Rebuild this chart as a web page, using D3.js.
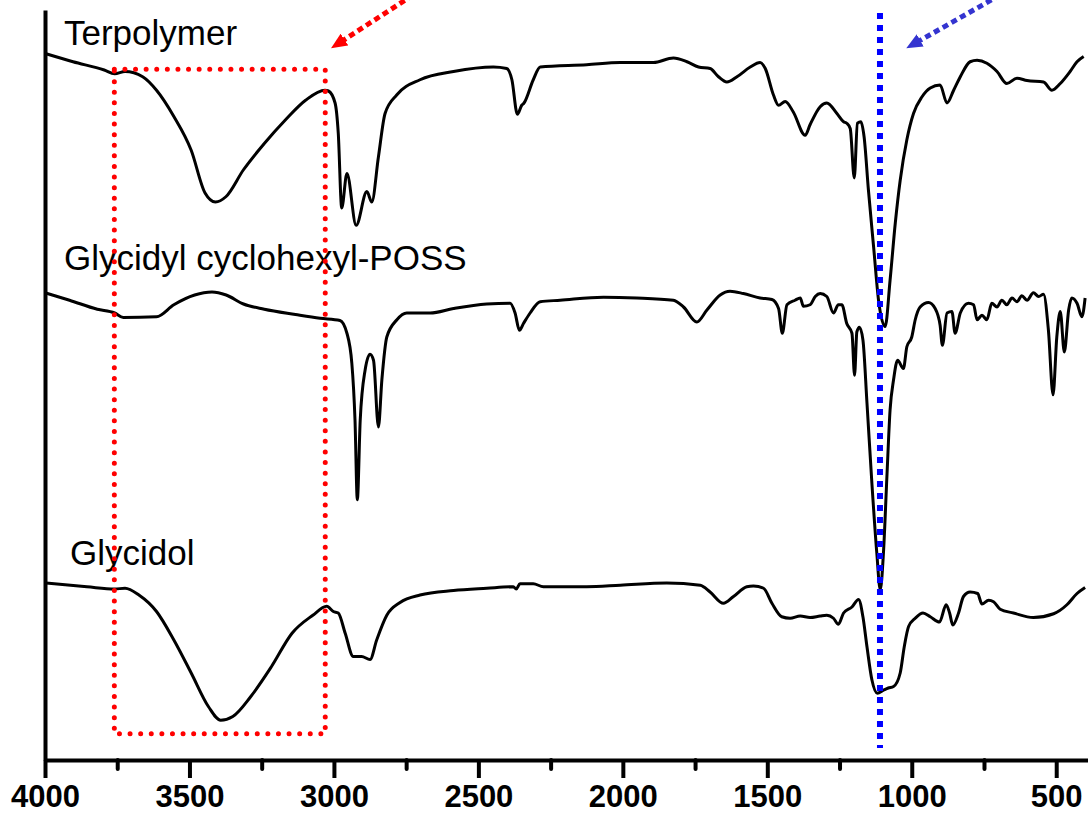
<!DOCTYPE html>
<html>
<head>
<meta charset="utf-8">
<script src="https://cdn.jsdelivr.net/npm/d3@7"></script>
<style>
  body { margin: 0; background: #fff; }
  svg { display: block; }
</style>
</head>
<body>
<div id="chart"></div>
<script>
// FTIR spectra: [wavenumber (cm-1), transmittance (offset, a.u.)]
var terpolymer = [
  [4000, 94.2], [3903, 93.1], [3795, 92.0], [3759, 91.5], [3723, 91.8], [3662, 91.1],
  [3614, 89.3], [3554, 85.8], [3494, 81.3], [3446, 75.6], [3410, 74.4], [3374, 75.1],
  [3313, 78.7], [3241, 82.2], [3169, 85.3], [3097, 88.0], [3031, 89.3], [3019, 89.2],
  [2996, 87.6], [2985, 83.6], [2973, 73.6], [2955, 78.2], [2923, 71.3], [2886, 75.8],
  [2869, 74.4], [2846, 80.4], [2823, 86.2], [2782, 88.7], [2702, 90.7], [2586, 91.8],
  [2448, 92.4], [2402, 92.2], [2384, 90.7], [2365, 86.1], [2350, 87.3], [2342, 87.6],
  [2310, 90.7], [2286, 92.4], [2125, 92.7], [2009, 93.0], [1894, 93.0], [1825, 93.6],
  [1778, 93.1], [1738, 92.4], [1698, 92.2], [1669, 91.1], [1640, 90.4], [1605, 91.1],
  [1559, 92.4], [1525, 93.0], [1507, 92.2], [1479, 88.7], [1461, 87.3], [1438, 87.8],
  [1410, 86.4], [1369, 83.3], [1352, 84.7], [1317, 87.1], [1294, 87.6], [1259, 86.2],
  [1236, 85.1], [1225, 84.9], [1213, 84.2], [1199, 77.6], [1188, 84.9], [1176, 85.1],
  [1165, 83.1], [1150, 76.0], [1132, 68.4], [1115, 61.3], [1092, 57.8], [1075, 64.0],
  [1057, 71.6], [1040, 77.3], [1017, 82.7], [994, 86.2], [965, 88.4], [936, 89.6],
  [902, 90.0], [878, 87.6], [855, 89.3], [832, 91.1], [798, 93.1], [774, 93.3],
  [740, 92.9], [705, 91.8], [671, 90.2], [636, 90.9], [601, 90.6], [544, 90.4],
  [515, 89.3], [486, 90.2], [452, 91.8], [428, 93.1], [405, 93.8]
];

var possGlycidyl = [
  [4000, 62.3], [3915, 61.3], [3819, 60.1], [3759, 59.6], [3729, 59.0], [3614, 59.1],
  [3554, 60.7], [3482, 62.0], [3422, 62.4], [3373, 62.0], [3313, 60.8], [3241, 60.1],
  [3133, 59.4], [3048, 58.9], [2979, 58.6], [2955, 56.9], [2938, 52.9], [2927, 45.3],
  [2919, 34.7], [2909, 45.3], [2892, 52.0], [2875, 54.1], [2863, 53.3], [2846, 44.4],
  [2834, 50.7], [2817, 56.4], [2782, 58.7], [2748, 59.6], [2667, 59.6], [2586, 60.2],
  [2471, 60.8], [2390, 60.9], [2373, 59.6], [2358, 57.3], [2344, 58.2], [2321, 59.6],
  [2286, 61.1], [2217, 61.3], [2067, 61.7], [1952, 61.6], [1825, 61.3], [1790, 60.4],
  [1744, 58.4], [1709, 60.0], [1663, 62.0], [1629, 62.5], [1583, 62.2], [1525, 61.6],
  [1484, 61.4], [1461, 60.2], [1448, 56.9], [1432, 60.7], [1404, 61.3], [1386, 61.6],
  [1375, 60.5], [1352, 60.7], [1334, 61.8], [1317, 62.2], [1294, 61.8], [1271, 59.6],
  [1254, 60.7], [1242, 60.7], [1225, 58.2], [1207, 56.9], [1198, 51.3], [1190, 57.1],
  [1181, 57.7], [1169, 56.0], [1155, 47.6], [1138, 36.9], [1121, 27.6], [1109, 22.7],
  [1098, 27.6], [1086, 37.8], [1075, 46.7], [1063, 50.7], [1049, 53.3], [1029, 52.2],
  [1017, 55.1], [1000, 56.4], [988, 58.7], [971, 60.4], [942, 61.0], [919, 60.2],
  [902, 58.0], [894, 55.3], [878, 59.6], [861, 59.8], [850, 56.9], [832, 59.6],
  [804, 60.9], [786, 60.7], [774, 58.7], [757, 59.3], [740, 58.7], [723, 60.9],
  [705, 60.4], [688, 61.3], [671, 60.7], [653, 61.6], [636, 61.1], [619, 61.9],
  [601, 61.3], [579, 62.3], [561, 61.8], [544, 62.1], [527, 57.3], [511, 48.7],
  [498, 56.4], [486, 59.8], [472, 54.4], [457, 60.0], [446, 61.6], [428, 60.9],
  [411, 59.1], [400, 61.6]
];

var glycidol = [
  [4000, 23.6], [3855, 23.1], [3759, 22.8], [3723, 22.9], [3675, 22.0], [3614, 19.8],
  [3554, 16.0], [3494, 11.6], [3434, 7.1], [3392, 5.3], [3350, 5.8], [3289, 8.4],
  [3217, 12.4], [3145, 16.9], [3073, 19.3], [3025, 20.5], [3002, 19.8], [2985, 19.6],
  [2961, 16.9], [2933, 13.8], [2904, 13.8], [2875, 13.4], [2852, 16.0], [2817, 19.3],
  [2771, 21.0], [2702, 22.0], [2586, 22.6], [2471, 22.9], [2379, 23.1], [2369, 22.8],
  [2356, 23.5], [2310, 23.5], [2275, 23.1], [2125, 23.1], [2009, 23.3], [1848, 23.6],
  [1732, 23.3], [1698, 22.4], [1652, 20.9], [1617, 21.8], [1571, 23.1], [1548, 23.2],
  [1513, 22.9], [1484, 20.9], [1450, 19.1], [1421, 18.9], [1386, 19.2], [1352, 19.0],
  [1317, 19.2], [1294, 19.3], [1271, 18.9], [1254, 18.1], [1236, 19.6], [1207, 20.4],
  [1184, 21.4], [1169, 19.1], [1155, 15.1], [1138, 10.7], [1119, 8.9], [1098, 9.3],
  [1081, 9.6], [1063, 9.8], [1040, 11.6], [1026, 15.1], [1011, 17.8], [988, 18.9],
  [961, 19.6], [936, 19.1], [904, 18.4], [881, 20.7], [869, 19.6], [858, 18.0],
  [838, 19.6], [821, 21.8], [798, 22.4], [772, 22.2], [757, 20.8], [734, 21.3],
  [717, 21.1], [694, 20.1], [648, 19.6], [579, 19.0], [509, 19.5], [463, 20.7],
  [428, 22.2], [400, 23.0]
];

var seriesNames = ["Terpolymer", "Glycidyl cyclohexyl-POSS", "Glycidol"];
var majorTicks = [4000, 3500, 3000, 2500, 2000, 1500, 1000, 500];
var minorTicks = [3750, 3250, 2750, 2250, 1750, 1250, 750];

// highlighted regions
var ohBand = [3760, 3030];      // O-H stretch box
var siOBand = 1110;             // Si-O-Si line

var width = 1088, height = 815;

var svg = d3.select("#chart")
  .append("svg")
    .attr("width", width)
    .attr("height", height);

var x = d3.scaleLinear()
  .domain([4000, 390])
  .range([45, 1088]);

var y = d3.scaleLinear()
  .domain([0, 100])
  .range([760, 10]);

// spectra
var line = d3.line()
  .x(function(d) { return x(d[0]); })
  .y(function(d) { return y(d[1]); })
  .curve(d3.curveMonotoneX);

[terpolymer, possGlycidyl, glycidol].forEach(function(s) {
  svg.append("path")
    .datum(s)
    .attr("fill", "none")
    .attr("stroke", "#000")
    .attr("stroke-width", 3)
    .attr("stroke-linejoin", "round")
    .attr("d", line);
});

// series labels
var labelPos = [[64, 45], [64, 270], [70, 565]];
svg.selectAll(".lbl")
  .data(seriesNames)
  .enter()
  .append("text")
    .attr("x", function(d, i) { return labelPos[i][0]; })
    .attr("y", function(d, i) { return labelPos[i][1]; })
    .style("font-family", "'Liberation Sans', Arial, sans-serif")
    .style("font-size", "35px")
    .attr("fill", "#000")
    .text(function(d) { return d; });

// red dotted box
svg.append("rect")
  .attr("x", x(ohBand[0]))
  .attr("y", y(92.1))
  .attr("width", x(ohBand[1]) - x(ohBand[0]))
  .attr("height", y(3.5) - y(92.1))
  .attr("fill", "none")
  .attr("stroke", "#ff0000")
  .attr("stroke-width", 5)
  .attr("stroke-linecap", "round")
  .attr("stroke-dasharray", "0 10.6");

// blue dotted line
svg.append("line")
  .attr("x1", x(siOBand)).attr("x2", x(siOBand))
  .attr("y1", y(99.6)).attr("y2", y(1.6))
  .attr("stroke", "#0000ff")
  .attr("stroke-width", 6)
  .attr("stroke-dasharray", "6 6");

// arrows
function arrow(from, to, color, id) {
  svg.append("defs").append("marker")
    .attr("id", id)
    .attr("viewBox", "0 -7 16 14")
    .attr("refX", 16).attr("refY", 0)
    .attr("markerWidth", 16).attr("markerHeight", 14)
    .attr("markerUnits", "userSpaceOnUse")
    .attr("orient", "auto")
    .append("path")
      .attr("d", "M0,-7L16,0L0,7Z")
      .attr("fill", color);
  var x1 = x(from[0]), y1 = y(from[1]), x2 = x(to[0]), y2 = y(to[1]);
  var len = Math.hypot(x2 - x1, y2 - y1);
  var ux = (x2 - x1) / len, uy = (y2 - y1) / len;
  // shaft stops under the head
  svg.append("line")
    .attr("x1", x1).attr("y1", y1)
    .attr("x2", x2 - ux * 10).attr("y2", y2 - uy * 10)
    .attr("stroke", color)
    .attr("stroke-width", 5)
    .attr("stroke-dasharray", "6 4");
  svg.append("line")
    .attr("x1", x2 - ux * 11).attr("y1", y2 - uy * 11)
    .attr("x2", x2).attr("y2", y2)
    .attr("stroke", "none")
    .attr("marker-end", "url(#" + id + ")");
}
arrow([2726, 102], [3010, 94.9], "#ff0000", "headRed");
arrow([694, 102], [1019, 94.9], "#3434d0", "headBlue");

// x axis: major and minor ticks
var xAxis = svg.append("g")
  .attr("transform", "translate(0," + y(0) + ")")
  .call(d3.axisBottom(x)
    .tickValues(majorTicks)
    .tickSize(18)
    .tickSizeOuter(0)
    .tickFormat(d3.format("d")));

svg.append("g")
  .attr("transform", "translate(0," + y(0) + ")")
  .call(d3.axisBottom(x)
    .tickValues(minorTicks)
    .tickSize(9)
    .tickSizeOuter(0)
    .tickFormat(""))
  .call(function(g) { g.select(".domain").remove(); })
  .selectAll("line")
    .attr("stroke-width", 4)
    .attr("stroke-linecap", "round");

xAxis.select(".domain").attr("stroke-width", 4);
xAxis.selectAll(".tick line").attr("stroke-width", 4);
xAxis.selectAll(".tick text")
  .attr("y", 25)
  .style("font-family", "'Liberation Sans', Arial, sans-serif")
  .style("font-size", "31px")
  .style("font-weight", "bold")
  .attr("fill", "#000");

// y axis: bare line
svg.append("g")
  .attr("transform", "translate(" + x(4000) + ",0)")
  .call(d3.axisLeft(y).tickValues([]).tickSizeOuter(0))
  .select(".domain")
    .attr("stroke-width", 4);
</script>
</body>
</html>
